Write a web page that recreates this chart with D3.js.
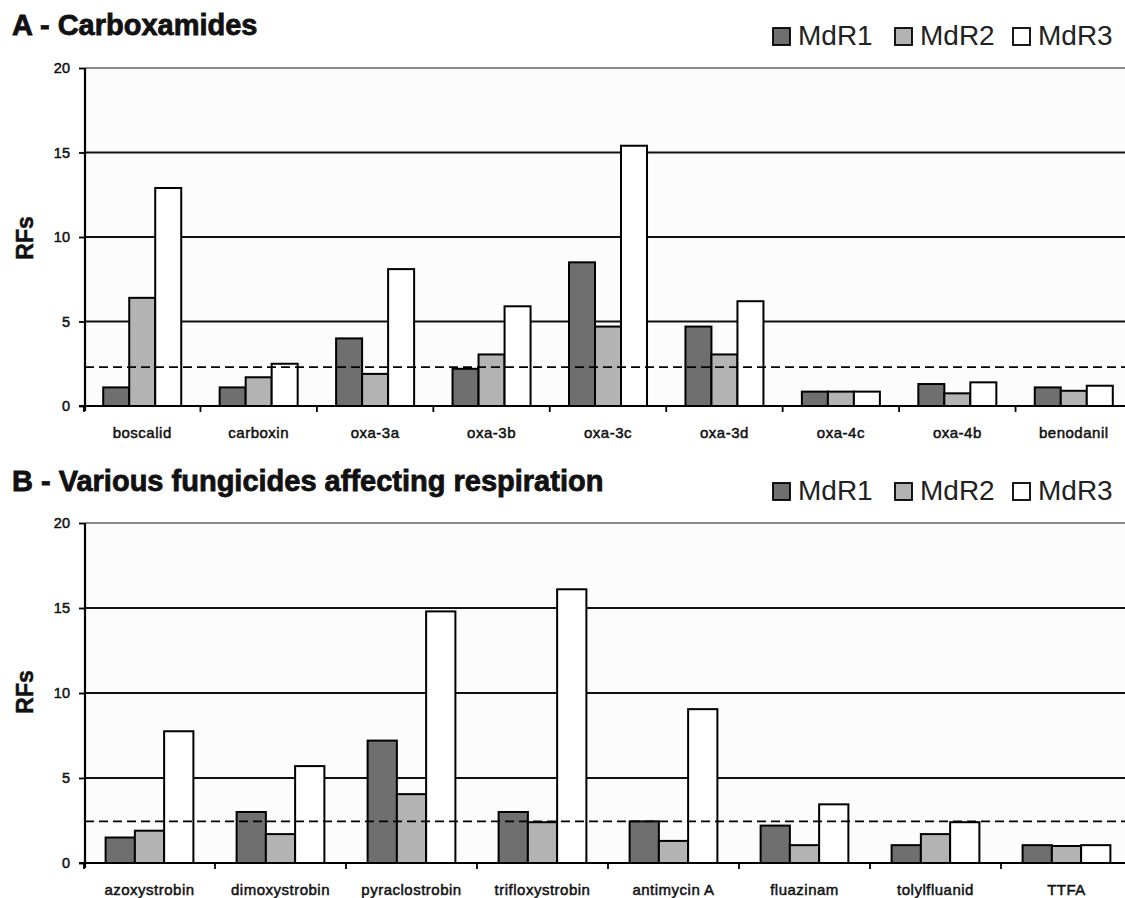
<!DOCTYPE html>
<html><head><meta charset="utf-8">
<script src="https://cdn.jsdelivr.net/npm/d3@7"></script>
<style>body{margin:0;background:#fff}svg{display:block}</style>
</head><body>
<svg id="c" width="1125" height="898"></svg>
<script>
const seriesNames = ["MdR1", "MdR2", "MdR3"];
const seriesColors = ["#6f6f6f", "#b3b3b3", "#ffffff"];
const yTicks = [0, 5, 10, 15, 20];

const titleA = "A - Carboxamides";
const catsA = ["boscalid", "carboxin", "oxa-3a", "oxa-3b", "oxa-3c", "oxa-3d", "oxa-4c", "oxa-4b", "benodanil"];
const mdr1A = [1.1, 1.1, 4.0, 2.2, 8.5, 4.7, 0.85, 1.3, 1.1];
const mdr2A = [6.4, 1.7, 1.9, 3.05, 4.7, 3.05, 0.85, 0.75, 0.9];
const mdr3A = [12.9, 2.5, 8.1, 5.9, 15.4, 6.2, 0.85, 1.4, 1.2];
const thresholdA = 2.3;

const titleB = "B - Various fungicides affecting respiration";
const catsB = ["azoxystrobin", "dimoxystrobin", "pyraclostrobin", "trifloxystrobin", "antimycin A", "fluazinam", "tolylfluanid", "TTFA"];
const mdr1B = [1.5, 3.0, 7.2, 3.0, 2.45, 2.2, 1.05, 1.05];
const mdr2B = [1.9, 1.7, 4.05, 2.4, 1.3, 1.05, 1.7, 1.0];
const mdr3B = [7.75, 5.7, 14.8, 16.1, 9.05, 3.45, 2.4, 1.05];
const thresholdB = 2.45;

const svg = d3.select("#c");
const FONT = "'Liberation Sans', Arial, sans-serif";

function panel(cfg) {
  const g = svg.append("g");
  const x = d3.scaleBand().domain(cfg.cats).range([84, 1132]).paddingInner(0).paddingOuter(0);
  const y = d3.scaleLinear().domain([0, 20]).range([cfg.y0, cfg.y20]);
  const groupW = x.bandwidth() * 0.67;
  const xs = d3.scaleBand().domain(seriesNames).range([0, groupW]);

  g.append("rect").attr("x", 85).attr("y", y(20)).attr("width", 1125 - 85).attr("height", y(0) - y(20)).attr("fill", "#fcfcfc");

  g.selectAll(".grid").data(yTicks.filter(t => t > 0)).join("line")
    .attr("x1", 85).attr("x2", 1125)
    .attr("y1", d => y(d)).attr("y2", d => y(d))
    .attr("stroke", d => d === 20 ? "#8a8a8a" : "#111")
    .attr("stroke-width", d => d === 20 ? 2 : 1.9);

  const data = [];
  cfg.cats.forEach((c, i) => {
    cfg.series.forEach((s, j) => data.push({ cat: c, name: seriesNames[j], v: s[i], j }));
  });
  g.selectAll(".bar").data(data).join("rect")
    .attr("x", d => x(d.cat) + (x.bandwidth() - groupW) / 2 + xs(d.name))
    .attr("y", d => y(d.v))
    .attr("width", xs.bandwidth())
    .attr("height", d => y(0) - y(d.v))
    .attr("fill", d => seriesColors[d.j])
    .attr("stroke", "#000").attr("stroke-width", 2);

  g.append("line").attr("x1", 85).attr("x2", 1125)
    .attr("y1", y(cfg.threshold)).attr("y2", y(cfg.threshold))
    .attr("stroke", "#000").attr("stroke-width", 1.8).attr("stroke-dasharray", "9,5");

  const ya = g.append("g").attr("transform", "translate(85,0)")
    .call(d3.axisLeft(y).tickValues(yTicks).tickSize(6).tickPadding(9).tickFormat(d3.format("d")));
  ya.select(".domain").attr("stroke", "#000").attr("stroke-width", 2.2).attr("d", `M0,${y(0) + 5}V${y(20)}`);
  ya.selectAll(".tick line").attr("stroke", "#000").attr("stroke-width", 1.8);
  ya.selectAll(".tick text").attr("font-family", FONT).attr("font-size", 14.5).attr("fill", "#111")
    .attr("stroke", "#111").attr("stroke-width", 0.5);

  const xa = g.append("g").attr("transform", `translate(0,${y(0)})`);
  xa.append("line").attr("x1", 79).attr("x2", 1125).attr("y1", 0).attr("y2", 0).attr("stroke", "#000").attr("stroke-width", 2.2);
  const bounds = cfg.cats.map(c => x(c)).concat([x.range()[1]]);
  xa.selectAll(".xt").data(bounds).join("line")
    .attr("x1", d => d).attr("x2", d => d).attr("y1", 0).attr("y2", 6)
    .attr("stroke", "#000").attr("stroke-width", 1.8);
  xa.selectAll(".xl").data(cfg.cats).join("text")
    .attr("x", d => x(d) + x.bandwidth() / 2).attr("y", 32)
    .attr("text-anchor", "middle").attr("font-family", FONT).attr("font-size", 15)
    .attr("letter-spacing", 0.5).attr("fill", "#111")
    .attr("stroke", "#111").attr("stroke-width", 0.5).text(d => d);

  g.append("text").attr("transform", `translate(33,${cfg.yLabelY}) rotate(-90)`)
    .attr("text-anchor", "middle").attr("font-family", FONT).attr("font-weight", "bold")
    .attr("font-size", 23).attr("fill", "#111").attr("stroke", "#111").attr("stroke-width", 0.5).text("RFs");

  g.append("text").attr("x", 12).attr("y", cfg.titleY).attr("font-family", FONT)
    .attr("font-weight", "bold").attr("font-size", 29).attr("fill", "#111")
    .attr("stroke", "#111").attr("stroke-width", 0.8).text(cfg.title);

  const legX = [773, 895, 1013];
  const lg = g.selectAll(".leg").data(seriesNames).join("g")
    .attr("transform", (d, i) => `translate(${legX[i]},${cfg.legendY})`);
  lg.append("rect").attr("x", 0).attr("y", 0).attr("width", 17).attr("height", 17)
    .attr("fill", (d, i) => seriesColors[i]).attr("stroke", "#000").attr("stroke-width", 1.8);
  lg.append("text").attr("x", 25).attr("y", 17).attr("font-family", FONT)
    .attr("font-size", 28).attr("fill", "#222").text(d => d);
}

panel({ title: titleA, cats: catsA, series: [mdr1A, mdr2A, mdr3A], threshold: thresholdA,
  y0: 406, y20: 68, titleY: 35, legendY: 28, yLabelY: 238 });
panel({ title: titleB, cats: catsB, series: [mdr1B, mdr2B, mdr3B], threshold: thresholdB,
  y0: 863, y20: 523, titleY: 491, legendY: 483, yLabelY: 692 });
</script>
</body></html>
